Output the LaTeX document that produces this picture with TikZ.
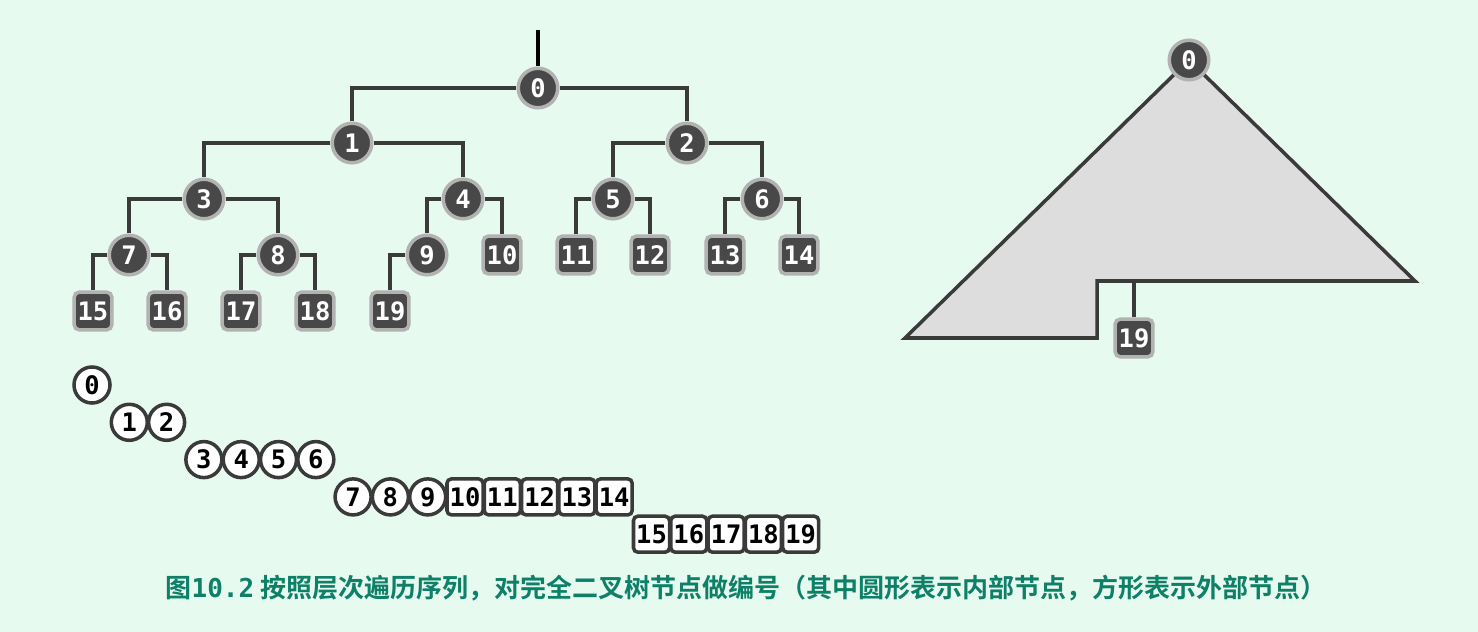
\documentclass[tikz,border=0pt]{standalone}
\usepackage{fontspec}
\setmonofont{DejaVu Sans Mono}
\newfontfamily\cjk{Noto Sans CJK SC Bold}
\definecolor{bgmint}{RGB}{230,250,240}
\definecolor{nodedark}{RGB}{72,72,72}
\definecolor{noderim}{RGB}{178,178,178}
\definecolor{edgedark}{RGB}{58,58,58}
\definecolor{hullgray}{RGB}{221,221,221}
\definecolor{capgreen}{RGB}{14,128,104}
\tikzset{
  numfont/.style={font=\ttfamily\bfseries\fontsize{14.5}{14.5}\selectfont},
  inner/.style={circle,fill=nodedark,draw=noderim,line width=2pt,
    minimum size=22.5pt,inner sep=0pt,text=white,numfont},
  outer/.style={rectangle,rounded corners=3pt,fill=nodedark,draw=noderim,
    line width=2pt,minimum size=21.5pt,inner sep=0pt,text=white,numfont},
  seqin/.style={circle,fill=white,draw=edgedark,line width=2pt,
    minimum size=20.5pt,inner sep=0pt,text=black,numfont},
  seqout/.style={rectangle,rounded corners=2.5pt,fill=white,draw=edgedark,
    line width=2pt,minimum width=20.5pt,minimum height=20.5pt,inner sep=0pt,
    text=black,numfont},
  edge/.style={draw=edgedark,line width=2pt},
}
\begin{document}
\begin{tikzpicture}[x=0.02cm,y=-0.02cm]
  \fill[bgmint] (0,0) rectangle (1478,632);

  % complete binary tree
  \foreach \i/\x/\y in {0/538/88,1/352/143,2/687/143,3/204/199,4/463/199,
      5/613/199,6/762/199,7/129/255,8/278/255,9/427/255}
    \node[inner] (n\i) at (\x,\y) {\i};
  \foreach \i/\x/\y in {10/502/255,11/576/255,12/650/255,13/725/255,14/799/255,
      15/93/311,16/167/311,17/241/311,18/315/311,19/390/311}
    \node[outer] (n\i) at (\x,\y) {\i};
  \coordinate (stem) at (538,30);
  \draw[edge,draw=black] (stem) -- (n0);
  \foreach \c in {1,...,19}{
    \pgfmathtruncatemacro\p{(\c-1)/2}
    \draw[edge] (n\p) -| (n\c);
  }

  % right: the tree as a hull
  \draw[edge,fill=hullgray,line join=miter] (1189,60) -- (1415,281) -- (1097,281)
    -- (1097,338) -- (905,338) -- cycle;
  \node[inner] (r0) at (1189,60) {0};
  \node[outer] (r19) at (1134,338) {19};
  \coordinate (r19top) at (1134,281);
  \draw[edge] (r19top) -- (r19);

  % level order sequence
  \foreach \i/\l in {0/0,1/1,2/1,3/2,4/2,5/2,6/2,7/3,8/3,9/3}
    \node[seqin] (s\i) at ({92+37.3*\i},{385+37.3*\l}) {\i};
  \foreach \i/\l in {10/3,11/3,12/3,13/3,14/3,15/4,16/4,17/4,18/4,19/4}
    \node[seqout] (s\i) at ({92+37.3*\i},{385+37.3*\l}) {\i};

  \node[text=capgreen,font=\cjk\fontsize{14.8}{16}\selectfont] (caption) at (746,588)
    {图{\ttfamily\bfseries 10.2} 按照层次遍历序列，对完全二叉树节点做编号（其中圆形表示内部节点，方形表示外部节点）};
\end{tikzpicture}
\end{document}
